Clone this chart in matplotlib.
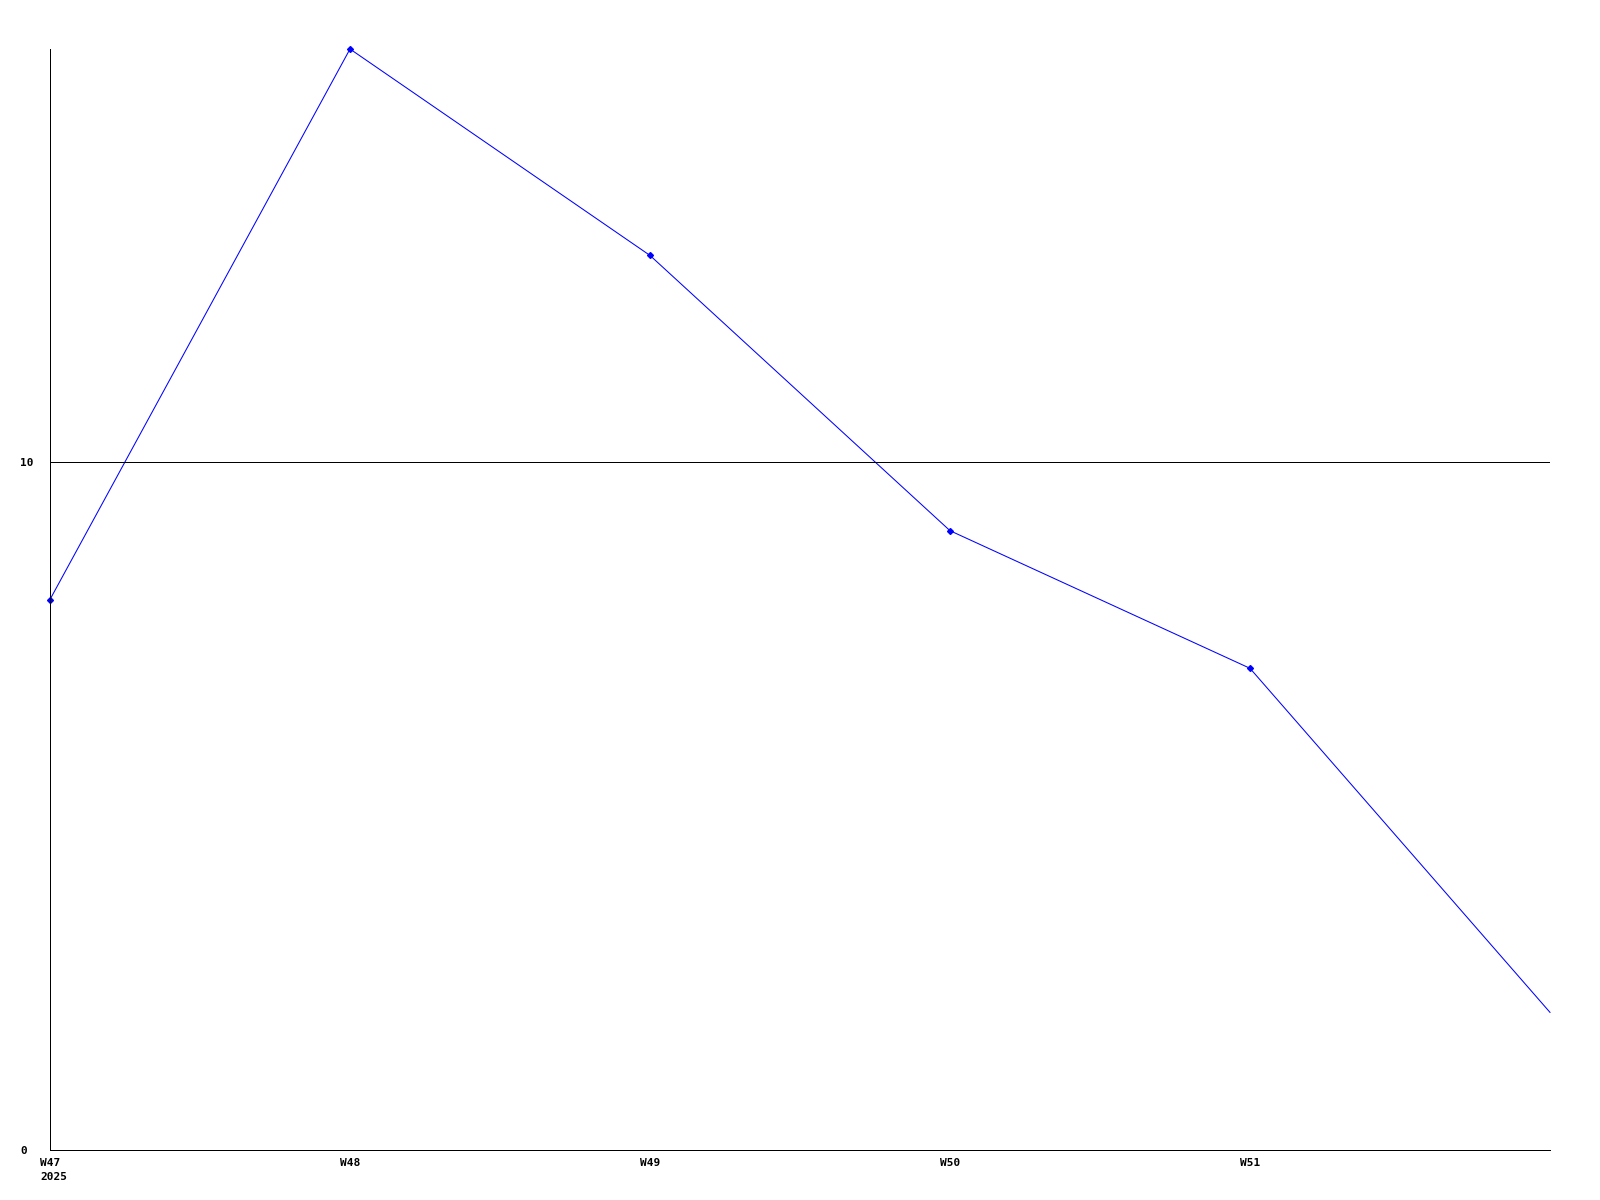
import matplotlib
matplotlib.use("Agg")
import matplotlib.pyplot as plt

weeks = ["W47", "W48", "W49", "W50", "W51", "W52"]
values = [8, 16, 13, 9, 7, 2]
year_label = "2025"
y_ticks = [0, 10]
y_tick_labels = ["0", "10"]

W, H = 1600, 1200
fig = plt.figure(figsize=(16, 12), dpi=100)
left, right, top, bottom = 50, 1550, 49, 1150
ax = fig.add_axes([left / W, 1 - bottom / H, (right - left) / W, (bottom - top) / H])

x = list(range(len(weeks)))
ax.plot(x, values, color="#0000ff", linewidth=0.75, antialiased=True, clip_on=False)
ax.plot(x[:-1], values[:-1], linestyle="none", marker="D", markersize=3,
        color="#0000ff", antialiased=False, clip_on=False)

ax.set_xlim(0, len(weeks) - 1)
ax.set_ylim(0, 16)

ax.axhline(10, color="black", linewidth=0.6, antialiased=False)

for s in ["top", "right"]:
    ax.spines[s].set_visible(False)
for s in ["left", "bottom"]:
    ax.spines[s].set_color("black")
    ax.spines[s].set_linewidth(0.7)
    ax.spines[s].set_antialiased(False)

font = dict(family="DejaVu Sans Mono", weight="bold", size=8)
ax.set_xticks(x[:-1])
ax.set_xticklabels(weeks[:-1], **font)
ax.tick_params(axis="x", length=0, pad=6)
ax.set_yticks(y_ticks)
ax.set_yticklabels(y_tick_labels, **font)
ax.tick_params(axis="y", length=0, pad=21.6)
for lbl in ax.get_yticklabels():
    lbl.set_horizontalalignment("left")

fig.text(40 / W, 1 - 1172 / H, year_label, ha="left", va="top", **font)

fig.savefig("out.png", dpi=100, facecolor="white")
